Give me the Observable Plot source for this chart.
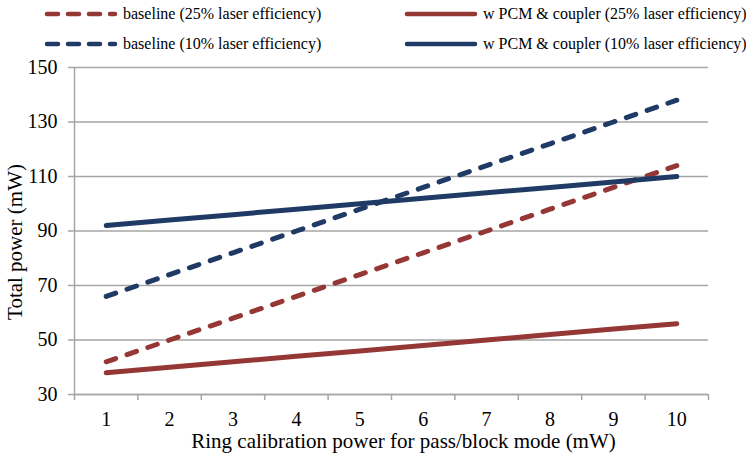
<!DOCTYPE html>
<html>
<head>
<meta charset="utf-8">
<script src="https://cdn.jsdelivr.net/npm/d3@7"></script>
<script src="https://cdn.jsdelivr.net/npm/@observablehq/plot@0.6"></script>
<style>
  html, body { margin: 0; padding: 0; background: #fff; }
  #wrap { width: 746px; height: 456px; position: relative; font-family: "Liberation Serif", "Times New Roman", serif; }
  #legend { position: relative; width: 746px; height: 60px; }
  .lg-item { position: absolute; height: 20px; display: flex; align-items: center; font-size: 16px; color: #000; white-space: nowrap; }
  .lg-item svg { display: block; margin-right: 4px; }
  #chart svg { display: block; }
</style>
</head>
<body>
<div id="wrap">
  <div id="legend"></div>
  <div id="chart"></div>
</div>
<script>
const xValues = [1, 2, 3, 4, 5, 6, 7, 8, 9, 10];
const baseline25 = [42, 50, 58, 66, 74, 82, 90, 98, 106, 114];
const pcm25 = [38, 40, 42, 44, 46, 48, 50, 52, 54, 56];
const baseline10 = [66, 74, 82, 90, 98, 106, 114, 122, 130, 138];
const pcm10 = [92, 94, 96, 98, 100, 102, 104, 106, 108, 110];
const yTicks = [30, 50, 70, 90, 110, 130, 150];
const xTickLabels = xValues;
const xBoundaries = [0.5, 1.5, 2.5, 3.5, 4.5, 5.5, 6.5, 7.5, 8.5, 9.5, 10.5];
const seriesNames = [
  "baseline (25% laser efficiency)",
  "w PCM & coupler (25% laser efficiency)",
  "baseline (10% laser efficiency)",
  "w PCM & coupler (10% laser efficiency)"
];
const xTitle = "Ring calibration power for pass/block mode (mW)";
const yTitle = "Total power (mW)";

const RED = "#953735";
const BLUE = "#1F3A64";
const GRID = "#A6A6A6";

const series = [
  {name: seriesNames[0], values: baseline25, color: RED, dashed: true},
  {name: seriesNames[1], values: pcm25, color: RED, dashed: false},
  {name: seriesNames[2], values: baseline10, color: BLUE, dashed: true},
  {name: seriesNames[3], values: pcm10, color: BLUE, dashed: false}
];

// Legend (HTML)
const legendPos = [
  {left: 40, top: 4}, {left: 400, top: 4},
  {left: 40, top: 34}, {left: 400, top: 34}
];
const legend = document.getElementById("legend");
series.forEach((s, i) => {
  const div = document.createElement("div");
  div.className = "lg-item";
  div.style.left = legendPos[i].left + "px";
  div.style.top = legendPos[i].top + "px";
  const dash = s.dashed ? 'stroke-dasharray="11,10"' : "";
  div.innerHTML = `<svg width="79" height="20"><line x1="7" y1="10" x2="75" y2="10" stroke="${s.color}" stroke-width="4.5" stroke-linecap="round" ${dash}/></svg><span>${s.name}</span>`;
  legend.appendChild(div);
});

const lineMarks = series.map(s =>
  Plot.line(xValues.map((x, i) => ({x, y: s.values[i]})), {
    x: "x", y: "y",
    stroke: s.color,
    strokeWidth: 5,
    strokeLinecap: "round",
    strokeLinejoin: "round",
    strokeDasharray: s.dashed ? "10,12" : null
  })
);

const chart = Plot.plot({
  width: 746,
  height: 396,
  marginTop: 7,
  marginLeft: 74,
  marginRight: 38,
  marginBottom: 62,
  style: {fontFamily: "'Liberation Serif', 'Times New Roman', serif", fontSize: "20px", color: "#000", background: "#fff", overflow: "visible"},
  x: {domain: [0.5, 10.5]},
  y: {domain: [30, 150]},
  marks: [
    Plot.gridY(yTicks, {stroke: GRID, strokeOpacity: 1, strokeWidth: 1.5}),
    Plot.ruleX([0.5], {stroke: GRID, strokeWidth: 1.5}),
    Plot.ruleY([30], {stroke: GRID, strokeWidth: 1.5}),
    Plot.axisY(yTicks, {tickSize: 6, tickPadding: 11, stroke: GRID, strokeWidth: 1.5, label: null, fill: "#000"}),
    Plot.axisX(xBoundaries, {tickSize: 6, tickFormat: () => "", stroke: GRID, strokeWidth: 1.5, label: null}),
    Plot.axisX(xTickLabels, {tickSize: 0, tickPadding: 17, label: null, fill: "#000"}),
    ...lineMarks,
    Plot.text([xTitle], {frameAnchor: "bottom", lineAnchor: "middle", textAnchor: "middle", dx: 12, dy: 47, fontSize: 21, fill: "#000"}),
    Plot.text([yTitle], {frameAnchor: "left", lineAnchor: "middle", textAnchor: "middle", rotate: -90, dx: -59, dy: 11, fontSize: 21, fill: "#000"})
  ]
});
document.getElementById("chart").appendChild(chart);
</script>
</body>
</html>
